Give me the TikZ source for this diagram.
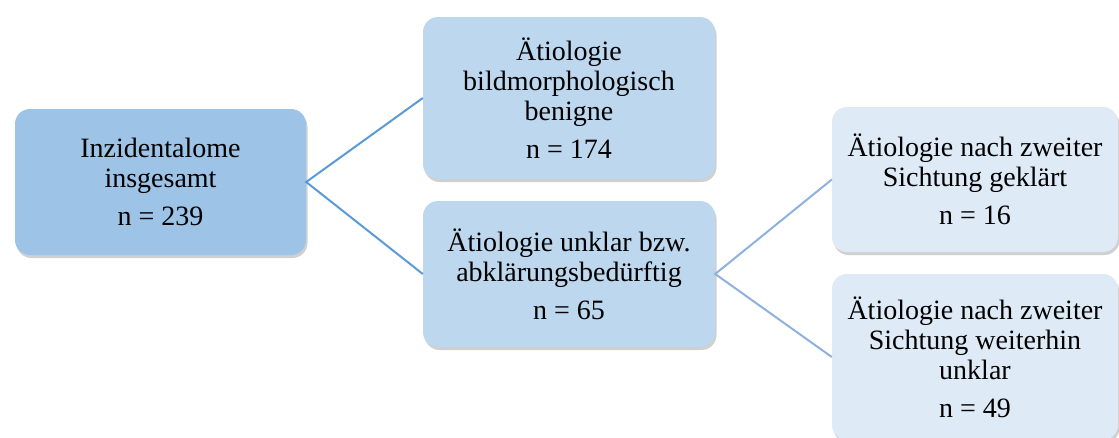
\documentclass[tikz,border=0pt]{standalone}
\usepackage{fontspec}
\setmainfont{Liberation Serif}[Ligatures=TeX]
\newfontfamily\timesfont{Liberation Serif}
\usetikzlibrary{shadows}
\definecolor{boxA}{HTML}{9DC3E6}
\definecolor{boxB}{HTML}{BDD7EE}
\definecolor{boxD}{HTML}{DEEBF7}
\definecolor{lineA}{HTML}{5B9BD5}
\definecolor{lineB}{HTML}{8FB1DE}
\tikzset{
  box/.style={rectangle, rounded corners=15pt, inner sep=0pt, align=center,
    font=\timesfont\fontsize{28}{30}\selectfont,
    drop shadow={shadow xshift=1.5pt, shadow yshift=-3pt, opacity=0.3, fill=black!60}},
  linkA/.style={draw=lineA, line width=2pt},
  linkB/.style={draw=lineB, line width=2pt}
}
\begin{document}
\begin{tikzpicture}[x=1pt,y=-1pt]
\clip (0,0) rectangle (1119,437);
\fill[white] (0,0) rectangle (1119,437);
\node[box, fill=boxA, minimum width=291pt, minimum height=146pt] (A) at (160.5,182)
  {Inzidentalome\\insgesamt\\[8pt]n = 239};
\node[box, fill=boxB, minimum width=292pt, minimum height=162pt] (B) at (569,98)
  {Ätiologie\\bildmorphologisch\\benigne\\[8pt]n = 174};
\node[box, fill=boxB, minimum width=292pt, minimum height=146pt] (C) at (569,274)
  {Ätiologie unklar bzw.\\abklärungsbedürftig\\[8pt]n = 65};
\node[box, fill=boxD, minimum width=286pt, minimum height=145pt] (D) at (975,179.5)
  {Ätiologie nach zweiter\\Sichtung geklärt\\[8pt]n = 16};
\node[box, fill=boxD, minimum width=286pt, minimum height=166pt] (E) at (975,357)
  {Ätiologie nach zweiter\\Sichtung weiterhin\\unklar\\[8pt]n = 49};
\draw[linkA] (B.west) -- (A.east) -- (C.west);
\draw[linkB] (D.west) -- (C.east) -- (E.west);
\end{tikzpicture}
\end{document}
